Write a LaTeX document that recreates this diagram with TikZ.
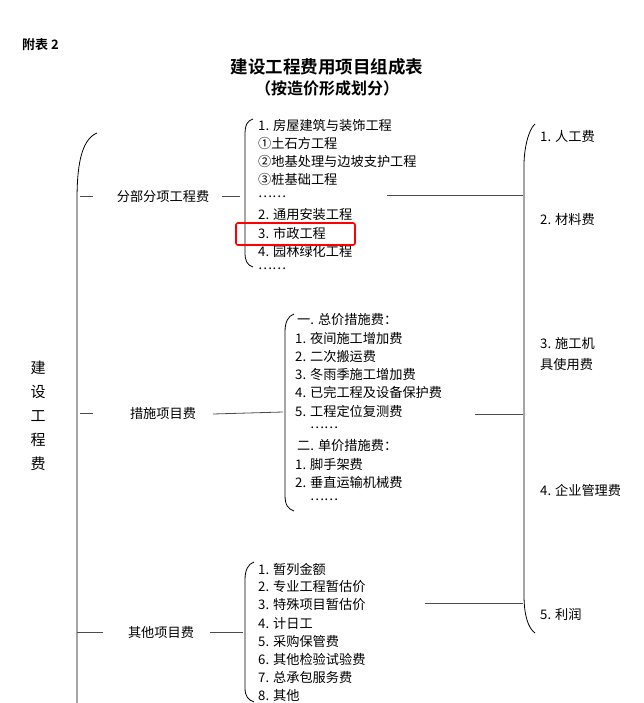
\documentclass[tikz,border=0pt]{standalone}
\usepackage{fontspec}
\setmainfont{Noto Sans CJK SC}
\newfontfamily\cjkb{Noto Sans CJK SC Bold}
\begin{document}
\begin{tikzpicture}[x=1pt,y=-1pt,
    item/.style={anchor=west, inner sep=0pt, font=\fontsize{13.2}{14}\selectfont},
    head/.style={inner sep=0pt, font=\fontsize{13.2}{14}\selectfont},
    brace/.style={line width=0.8pt},
    link/.style={line width=0.8pt, black!70}]
  \useasboundingbox (0,0) rectangle (643,703);
  % titles
  \node[anchor=west, inner sep=0pt, font=\cjkb\fontsize{13}{14}\selectfont] (fb) at (22,45) {附表 2};
  \node[inner sep=0pt, font=\cjkb\fontsize{17.5}{19}\selectfont] (t1) at (327,67) {建设工程费用项目组成表};
  \node[inner sep=0pt, font=\cjkb\fontsize{16}{18}\selectfont] (t2) at (327,88) {（按造价形成划分）};
  % root
  \node[head, align=center, font=\fontsize{15}{24}\selectfont] (root) at (38,416) {建\\设\\工\\程\\费};
  \draw[brace] (97,133) .. controls (80,140) and (77,170) .. (77,200) -- (77,703);
  % level 1
  \node[head] (fbfx) at (163,196) {分部分项工程费};
  \node[head] (csxm) at (163,413) {措施项目费};
  \node[head] (qtxm) at (161,632) {其他项目费};
  \draw[link] (80,196) -- (93,196);
  \draw[link] (222,196) -- (240,196);
  \draw[link] (80,413) -- (93,413);
  \draw[link] (213,414) -- (283,412);
  \draw[link] (77,632) -- (103,632);
  \draw[link] (210,632) -- (243,632);
  % group 1
  \draw[brace] (253,119) .. controls (247,121) and (245,125) .. (245,135) -- (245,252) .. controls (245,261) and (247,265) .. (253,267);
  \foreach \t [count=\i from 0] in {1. 房屋建筑与装饰工程, ①土石方工程, ②地基处理与边坡支护工程, ③桩基础工程, ……, 2. 通用安装工程, 3. 市政工程, 4. 园林绿化工程, ……}
    \node[item] (ga\i) at (258,125+18*\i) {\t};
  \draw[red, line width=1.6pt, rounded corners=2pt] (236,223) rectangle (355,245);
  % group 2
  \draw[brace] (294,314) .. controls (288,316) and (285,322) .. (285,332) -- (285,495) .. controls (285,505) and (288,509) .. (294,511);
  \node[item] (gbh1) at (297,320) {一. 总价措施费：};
  \foreach \t [count=\i from 0] in {1. 夜间施工增加费, 2. 二次搬运费, 3. 冬雨季施工增加费, 4. 已完工程及设备保护费, 5. 工程定位复测费}
    \node[item] (gb\i) at (295,338+18.3*\i) {\t};
  \node[item] (gbd1) at (310,428) {……};
  \node[item] (gbh2) at (297,446) {二. 单价措施费：};
  \node[item] (gc1) at (295,464) {1. 脚手架费};
  \node[item] (gc2) at (295,482) {2. 垂直运输机械费};
  \node[item] (gbd2) at (310,500) {……};
  % group 3
  \draw[brace] (254,562) .. controls (248,564) and (245,570) .. (245,580) -- (245,688) .. controls (245,696) and (248,700) .. (254,702);
  \foreach \t [count=\i from 0] in {1. 暂列金额, 2. 专业工程暂估价, 3. 特殊项目暂估价, 4. 计日工, 5. 采购保管费, 6. 其他检验试验费, 7. 总承包服务费, 8. 其他}
    \node[item] (gd\i) at (258,569+18*\i) {\t};
  % right side
  \draw[brace] (535,124) .. controls (528,130) and (524,150) .. (524,165) -- (524,595) .. controls (524,615) and (528,628) .. (535,633);
  \draw[link] (387,195) -- (523,195);
  \draw[link] (475,414) -- (523,414);
  \draw[link] (425,603) -- (523,603);
  \node[item] (r1) at (540,136) {1. 人工费};
  \node[item] (r2) at (540,219) {2. 材料费};
  \node[item, align=left, font=\fontsize{13.2}{21}\selectfont] (r3) at (540,354) {3. 施工机\\具使用费};
  \node[item] (r4) at (540,490) {4. 企业管理费};
  \node[item] (r5) at (540,614) {5. 利润};
\end{tikzpicture}
\end{document}
